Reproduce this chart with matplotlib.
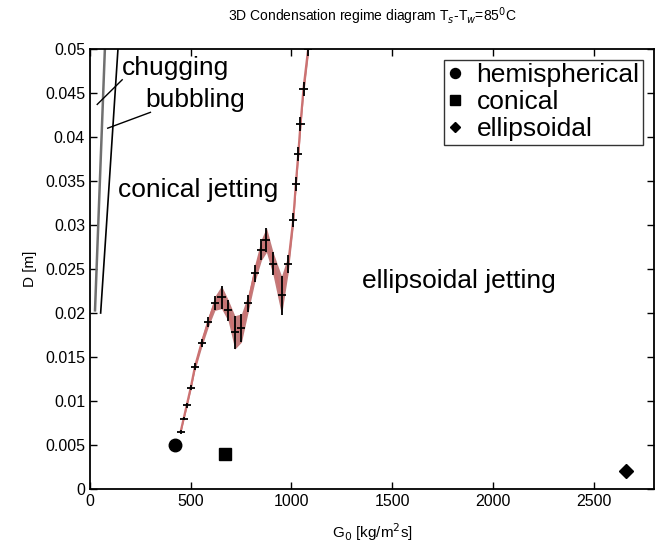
import numpy as np
import matplotlib.pyplot as plt

# regime boundary lines (G0 in kg/m2s, D in m)
CHUG_G = [25, 41, 74]
CHUG_D = [0.0203, 0.030, 0.050]
BUBBLE_G = [53, 82, 139]
BUBBLE_D = [0.020, 0.030, 0.050]

# conical / ellipsoidal jetting boundary with its uncertainty
JET_G = [450, 465, 480, 500, 521, 554, 587, 620, 653, 686, 719, 752, 785,
         818, 851, 876, 909, 951, 984, 1009, 1022, 1034, 1045, 1060, 1083]
JET_D = [0.0065, 0.0080, 0.0095, 0.0115, 0.0139, 0.0166, 0.0190, 0.0211,
         0.0218, 0.0203, 0.0178, 0.0183, 0.0211, 0.0245, 0.0272, 0.0283,
         0.0256, 0.0220, 0.0256, 0.0306, 0.0347, 0.0381, 0.0415, 0.0455,
         0.0500]
JET_ERR = [0.0002, 0.0002, 0.0003, 0.0003, 0.0004, 0.0005, 0.0006, 0.0008,
           0.0013, 0.0012, 0.0019, 0.0016, 0.0010, 0.0010, 0.0012, 0.0014,
           0.0013, 0.0022, 0.0010, 0.0008, 0.0008, 0.0008, 0.0008, 0.0008,
           0.0008]
JET_GERR = 20

# measured points
POINT_NAMES = ['hemispherical', 'conical', 'ellipsoidal']
POINT_G = [420, 670, 2660]
POINT_D = [0.005, 0.004, 0.002]
POINT_MARKERS = ['o', 's', 'D']

NARROW = ['Liberation Sans Narrow', 'Liberation Sans', 'DejaVu Sans']
SANS = ['Liberation Sans', 'DejaVu Sans']

fig = plt.figure(figsize=(6.64, 5.44), dpi=100)
ax = fig.add_axes([0.1355, 0.101, 0.8495, 0.809])

g = np.array(JET_G, dtype=float)
d = np.array(JET_D)
err = np.array(JET_ERR)
ax.fill_between(g, d - err, d + err, color='#b35a5a', alpha=0.8, lw=0)
ax.plot(g, d, color='#cc7272', lw=1.6)
ax.errorbar(g, d, yerr=err, xerr=JET_GERR, fmt='none', ecolor='black',
            elinewidth=1.3, capsize=0)

ax.plot(CHUG_G, CHUG_D, color='#707070', lw=1.8)
ax.plot(BUBBLE_G, BUBBLE_D, color='black', lw=1.2)

handles = []
for name, gx, dy, m in zip(POINT_NAMES, POINT_G, POINT_D, POINT_MARKERS):
    ms = 7 if m == 'D' else 9
    h, = ax.plot([gx], [dy], ls='none', marker=m, color='black', ms=ms,
                 label=name)
    handles.append(h)

# regime labels
ax.text(159, 0.0478, 'chugging', fontsize=19, family=SANS, va='center')
ax.text(273, 0.0442, 'bubbling', fontsize=19, family=SANS, va='center')
ax.text(139, 0.0340, 'conical jetting', fontsize=19, family=SANS,
        va='center')
ax.text(1349, 0.0236, 'ellipsoidal jetting', fontsize=19, family=SANS,
        va='center')
ax.plot([160, 36], [0.0465, 0.0437], color='black', lw=1)
ax.plot([300, 88], [0.0428, 0.0410], color='black', lw=1)

leg = ax.legend(handles=handles, loc='upper right',
                prop={'family': SANS, 'size': 19}, frameon=True,
                fancybox=False, edgecolor='black', borderaxespad=0.4,
                handlelength=0.6, handletextpad=0.5, borderpad=0.15,
                labelspacing=0.1, markerscale=0.8)
leg.get_frame().set_linewidth(1.0)

ax.set_xlim(0, 2800)
ax.set_ylim(0, 0.05)
ax.set_xticks(np.arange(0, 2501, 500))
ax.set_yticks(np.arange(0, 0.0501, 0.005))
ax.set_yticklabels(['0', '0.005', '0.01', '0.015', '0.02', '0.025', '0.03',
                    '0.035', '0.04', '0.045', '0.05'])
ax.tick_params(direction='in', top=True, right=True, length=5, width=1,
               labelsize=11.5)
for lab in ax.get_xticklabels() + ax.get_yticklabels():
    lab.set_family(NARROW)
for sp in ax.spines.values():
    sp.set_linewidth(1.3)

ax.set_xlabel('G$_0$ [kg/m$^2$s]', fontsize=11, family=NARROW, labelpad=9)
ax.set_ylabel('D [m]', fontsize=11, family=NARROW, labelpad=6)
ax.set_title('3D Condensation regime diagram T$_s$-T$_w$=85$^0$C',
             fontsize=10, family=SANS, pad=20)

fig.savefig('out.png', dpi=100)
